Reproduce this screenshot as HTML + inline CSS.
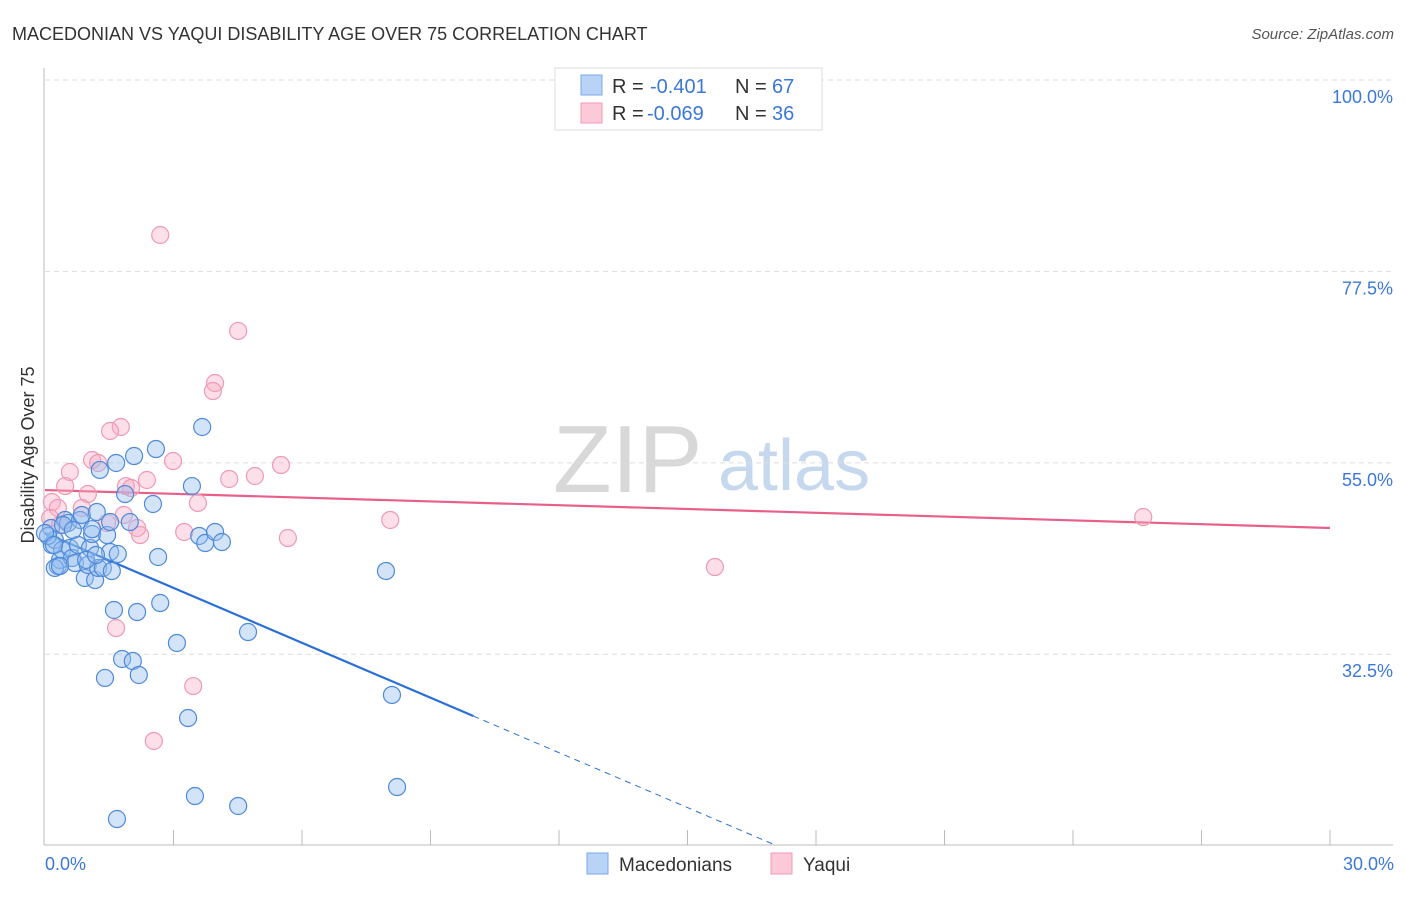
<!DOCTYPE html>
<html><head><meta charset="utf-8"><style>
body{margin:0;background:#fff;font-family:"Liberation Sans",sans-serif;}
svg text{font-family:"Liberation Sans",sans-serif;}
</style></head><body>
<svg id="chart" width="1406" height="892" viewBox="0 0 1406 892">
<text x="12" y="40" font-size="18" fill="#333">MACEDONIAN VS YAQUI DISABILITY AGE OVER 75 CORRELATION CHART</text>
<text x="1394" y="39" font-size="15" fill="#555" font-style="italic" text-anchor="end">Source: ZipAtlas.com</text>
<g>
<text x="553" y="492" font-size="96" font-family="Liberation Serif" fill="#d8d8d8">ZIP</text>
<text x="718" y="490" font-size="72" fill="#c6d8ee">atlas</text>
</g>
<g id="grid"></g>
<g id="axes"></g>
<g id="lines"></g>
<g id="points"></g>
<text transform="translate(34,455) rotate(-90)" font-size="18" fill="#333" text-anchor="middle">Disability Age Over 75</text>
<text x="45" y="870" font-size="18" fill="#3b78d8">0.0%</text>
<text x="1394" y="870" font-size="18" fill="#3b78d8" text-anchor="end">30.0%</text>
<g>
<rect x="555" y="68" width="267" height="62" fill="#fff" stroke="#ddd"/>
<rect x="581" y="75" width="21" height="20" fill="#b8d3f5" stroke="#7aa7e6"/>
<rect x="581" y="103" width="21" height="20" fill="#fbc9d8" stroke="#f09ab5"/>
<text x="612" y="93" font-size="20" fill="#333">R = </text><text x="650" y="93" font-size="20" fill="#3b78d8">-0.401</text>
<text x="735" y="93" font-size="20" fill="#333">N = </text><text x="772" y="93" font-size="20" fill="#3b78d8">67</text>
<text x="612" y="120" font-size="20" fill="#333">R = </text><text x="647" y="120" font-size="20" fill="#3b78d8">-0.069</text>
<text x="735" y="120" font-size="20" fill="#333">N = </text><text x="772" y="120" font-size="20" fill="#3b78d8">36</text>
</g>
<g>
<rect x="587" y="853" width="21" height="21" fill="#b8d3f5" stroke="#7aa7e6"/>
<text x="619" y="871" font-size="19" fill="#333">Macedonians</text>
<rect x="771" y="853" width="21" height="21" fill="#fbc9d8" stroke="#f09ab5"/>
<text x="803" y="871" font-size="19" fill="#333">Yaqui</text>
</g>
</svg>
<script>
const yTicks=[100,77.5,55,32.5];
const yTickLabels=["100.0%","77.5%","55.0%","32.5%"];
const blueX=[0.14,0.16,0.23,0.30,0.35,0.40,0.47,0.54,0.58,0.63,0.70,0.77,0.82,0.86,0.93,1.00,1.05,1.10,1.17,1.21,1.24,1.28,1.35,1.45,1.52,1.56,1.61,1.66,1.70,1.80,1.87,1.98,2.05,2.08,2.15,2.19,1.40,2.52,2.59,2.64,2.69,3.08,3.34,3.43,3.50,3.60,3.67,3.74,3.97,4.13,4.51,4.74,7.96,8.10,8.22,1.68,0.07,0.23,0.0,0.42,0.65,0.96,1.19,1.52,0.35,0.21,1.10];
const blueY=[47.34,45.34,45.93,42.87,43.58,44.75,48.28,47.93,44.99,43.81,43.22,45.34,48.28,48.87,41.46,42.99,44.99,46.63,41.22,49.22,42.64,54.16,42.64,46.51,44.52,42.28,37.70,54.98,44.28,31.94,51.33,48.04,31.70,55.80,37.46,30.06,29.71,50.16,56.62,43.93,38.52,33.82,25.0,52.27,15.83,46.40,59.21,45.57,46.87,45.69,14.66,35.11,42.28,27.71,16.89,13.13,46.40,42.64,46.75,47.69,47.10,43.58,44.16,48.04,42.87,45.34,47.20];
const pinkX=[2.69,4.51,3.97,3.92,1.77,1.52,0.58,1.10,1.24,2.38,2.99,3.57,4.30,4.90,5.51,0.47,1.00,0.16,0.30,0.86,1.89,2.01,1.84,2.15,2.22,1.45,3.25,5.67,8.06,1.66,3.46,2.54,15.64,25.64,0.12,0.35];
const pinkY=[81.78,70.50,64.38,63.44,59.21,58.74,53.92,55.33,54.98,52.98,55.21,50.28,53.10,53.45,54.74,52.27,51.33,50.39,49.69,49.69,52.27,52.04,48.87,47.34,46.51,47.93,46.87,46.16,48.28,35.58,28.76,22.30,42.75,48.63,48.51,47.69];
const blueTrend=[46.75,-17.8];
const pinkTrend=[51.8,47.34];
const X0=45,X1=1330,YTOP=80,PXY=8.507;
const sx=v=>X0+v*(X1-X0)/30;
const sy=v=>YTOP+(100-v)*PXY;
const NS="http://www.w3.org/2000/svg";
function mk(t,a,p){const e=document.createElementNS(NS,t);for(const k in a)e.setAttribute(k,a[k]);p.appendChild(e);return e;}
const grid=document.getElementById('grid');
yTicks.forEach((t,i)=>{
 const l=mk('line',{x1:45,x2:1393,y1:sy(t),y2:sy(t),stroke:'#ddd','stroke-dasharray':'5,4'},grid);
 
 
 const tx=mk('text',{x:1393,y:sy(t)+23,'font-size':18,fill:'#3b78d8','text-anchor':'end'},grid);
 tx.textContent=yTickLabels[i];
 
 
});
const axes=document.getElementById('axes');
let a=mk('line',{x1:44,x2:44,y1:68,y2:845,stroke:'#bbb'},axes);


a=mk('line',{x1:44,x2:1393,y1:845,y2:845,stroke:'#bbb'},axes);


for(let i=1;i<=10;i++){
 const t=mk('line',{x1:sx(i*3),x2:sx(i*3),y1:830,y2:845,stroke:'#bbb'},axes);
 
 
}
const lines=document.getElementById('lines');
const bx=v=>blueTrend[0]+(blueTrend[1]-blueTrend[0])*v/30;
const px=v=>pinkTrend[0]+(pinkTrend[1]-pinkTrend[0])*v/30;
let ln=mk('line',{x1:sx(0),y1:sy(bx(0)),x2:sx(10.0),y2:sy(bx(10.0)),stroke:'#2a6fd6','stroke-width':2.2},lines);


const xEnd=(sy(10.07)-sy(blueTrend[0]))/((sy(blueTrend[1])-sy(blueTrend[0]))/30);
ln=mk('line',{x1:sx(10.0),y1:sy(bx(10.0)),x2:sx(xEnd),y2:sy(bx(xEnd)),stroke:'#2a6fd6','stroke-width':1,'stroke-dasharray':'6,5'},lines);


ln=mk('line',{x1:sx(0),y1:sy(px(0)),x2:sx(30),y2:sy(px(30)),stroke:'#e8608a','stroke-width':2.2},lines);


const pts=document.getElementById('points');
pinkX.forEach((x,i)=>{
 const c=mk('circle',{cx:sx(x),cy:sy(pinkY[i]),r:8.5,fill:'rgba(246,170,195,0.38)',stroke:'#ef9ab4','stroke-width':1.2},pts);
 
 
});
blueX.forEach((x,i)=>{
 const c=mk('circle',{cx:sx(x),cy:sy(blueY[i]),r:8.5,fill:'rgba(150,190,240,0.42)',stroke:'#4f8ad9','stroke-width':1.2},pts);
 
 
});
</script>
</body></html>
